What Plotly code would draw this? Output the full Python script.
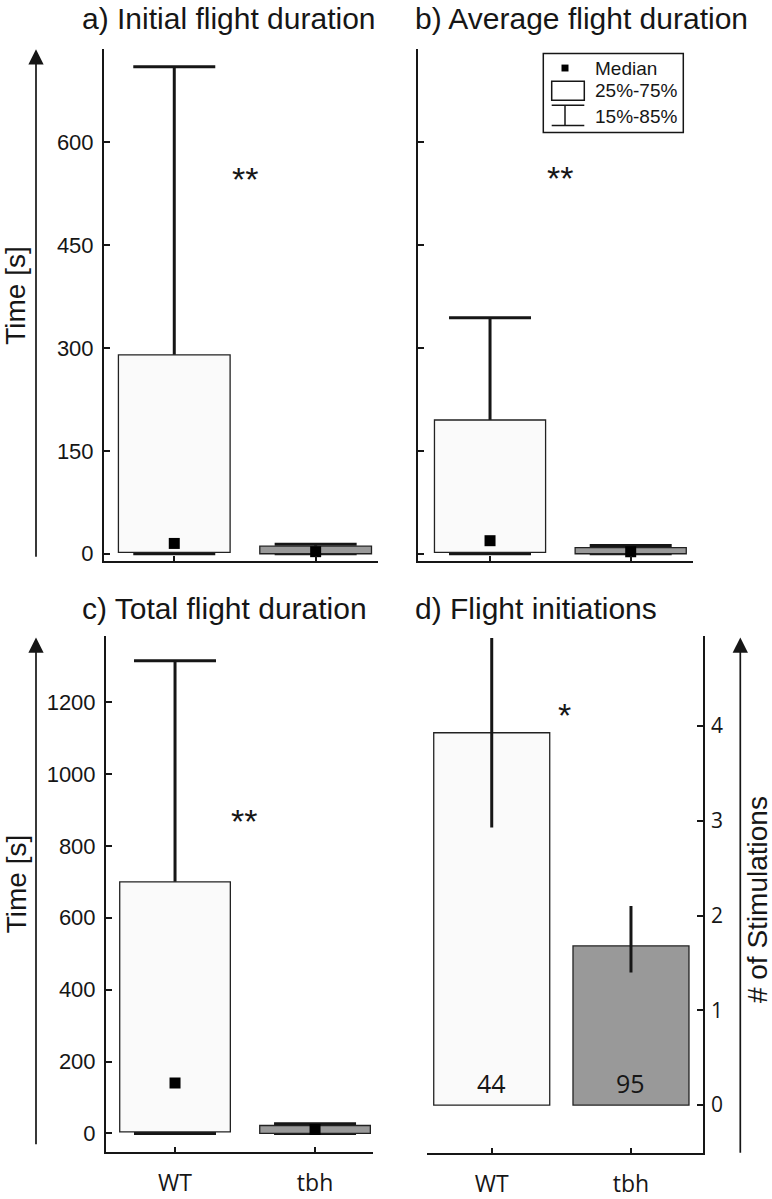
import plotly.graph_objects as go

W, H = 772, 1199

# ---------------- data ----------------
categories = ["WT", "tbh"]
fills = ["rgb(250,250,250)", "rgb(153,153,153)"]

# a) Initial flight duration  (15%, 25%, median, 75%, 85%)
a_p15 = [0, 0]
a_q1 = [2, 0]
a_med = [15, 3]
a_q3 = [290, 11]
a_p85 = [710, 14]

# b) Average flight duration
b_p15 = [0, 0]
b_q1 = [2, 0]
b_med = [19, 3]
b_q3 = [195, 9]
b_p85 = [344, 12]

# c) Total flight duration
c_p15 = [0, 0]
c_q1 = [4, 0]
c_med = [140, 11]
c_q3 = [700, 22]
c_p85 = [1315, 27]

# d) Flight initiations
d_mean = [3.93, 1.68]
d_err_up = [1.0, 0.42]
d_err_down = [1.0, 0.28]
d_n = ["44", "95"]

time_ticks = [0, 150, 300, 450, 600]
total_ticks = [0, 200, 400, 600, 800, 1000, 1200]
stim_ticks = [0, 1, 2, 3, 4]

# ---------------- helpers ----------------
def px(x):
    return x / W


def py(y):
    return 1 - y / H


def xd(l, r):
    return [px(l), px(r)]


def yd(top, bottom):
    return [py(bottom), py(top)]


INK = "#161616"
TICKFONT = dict(family="Liberation Sans, Arial, sans-serif", size=22, color=INK)
CATFONT = dict(family="Open Sans, sans-serif", size=23, color=INK)

fig = go.Figure()


def add_boxes(xa, ya, p15, q1, med, q3, p85):
    up = [p - m for p, m in zip(p85, med)]
    dn = [m - p for m, p in zip(med, p15)]
    fig.add_trace(go.Bar(
        x=categories, y=med, width=0.79, xaxis=xa, yaxis=ya,
        marker=dict(color="rgba(0,0,0,0)", line=dict(width=0)),
        error_y=dict(type="data", symmetric=False, array=up, arrayminus=dn,
                     color=INK, thickness=3, width=41),
        showlegend=False, hoverinfo="skip"))
    fig.add_trace(go.Bar(
        x=categories, y=[b - a for a, b in zip(q1, q3)], base=q1, width=0.79,
        xaxis=xa, yaxis=ya,
        marker=dict(color=fills, line=dict(color="#222", width=1.3)),
        showlegend=False, hoverinfo="skip"))
    fig.add_trace(go.Scatter(
        x=categories, y=med, mode="markers", xaxis=xa, yaxis=ya,
        marker=dict(symbol="square", size=11, color="black"),
        showlegend=False, hoverinfo="skip"))


add_boxes("x", "y", a_p15, a_q1, a_med, a_q3, a_p85)
add_boxes("x2", "y2", b_p15, b_q1, b_med, b_q3, b_p85)
add_boxes("x3", "y3", c_p15, c_q1, c_med, c_q3, c_p85)

fig.add_trace(go.Bar(
    x=categories, y=d_mean, width=0.833, xaxis="x4", yaxis="y4",
    marker=dict(color=fills, line=dict(color="#222", width=1.3)),
    error_y=dict(type="data", symmetric=False, array=d_err_up,
                 arrayminus=d_err_down, color=INK, thickness=3, width=0),
    showlegend=False, hoverinfo="skip"))

axis_common = dict(showline=True, linecolor=INK, linewidth=2, showgrid=False,
                   zeroline=False, ticks="inside", tickcolor=INK, tickwidth=1.5)

fig.update_layout(
    width=W, height=H, margin=dict(l=0, r=0, t=0, b=0),
    paper_bgcolor="white", plot_bgcolor="white",
    barmode="overlay", showlegend=False,
    font=dict(family="Liberation Sans, Arial, sans-serif", color=INK),
    xaxis=dict(domain=xd(104, 378), anchor="y", range=[-0.497, 1.441],
               showticklabels=False, ticklen=5, **axis_common),
    yaxis=dict(domain=yd(50, 569), anchor="x", range=[-10.5, 735.5],
               tickvals=time_ticks, ticklen=6, tickfont=TICKFONT,
               ticklabelstandoff=4, **axis_common),
    xaxis2=dict(domain=xd(418, 693.3), anchor="y2", range=[-0.512, 1.445],
                showticklabels=False, ticklen=5, **axis_common),
    yaxis2=dict(domain=yd(50, 569), anchor="x2", range=[-10.5, 735.5],
                tickvals=time_ticks, showticklabels=False, ticklen=6,
                **axis_common),
    xaxis3=dict(domain=xd(106, 373.3), anchor="y3", range=[-0.493, 1.416],
                tickfont=CATFONT, ticklen=5, ticklabelstandoff=10,
                **axis_common),
    yaxis3=dict(domain=yd(645, 1168.3), anchor="x3", range=[-51, 1384.6],
                tickvals=total_ticks, ticklen=6, tickfont=TICKFONT,
                ticklabelstandoff=4, **axis_common),
    xaxis4=dict(domain=xd(426.7, 702.7), anchor="y4", range=[-0.467, 1.515],
                tickfont=CATFONT, ticklen=5, ticklabelstandoff=10,
                **axis_common),
    yaxis4=dict(domain=yd(645, 1169.3), anchor="x4", range=[-0.503, 4.953],
                side="right", tickvals=stim_ticks, ticklen=6,
                tickfont=dict(family="Open Sans, sans-serif", size=21, color=INK),
                ticklabelstandoff=2, **axis_common),
)

ann = []
TITLEFONT = dict(family="Liberation Sans, Arial, sans-serif", size=30, color=INK)
for txt, x, y in [("a) Initial flight duration", 80, 19),
                  ("b) Average flight duration", 413, 19),
                  ("c) Total flight duration", 80, 617),
                  ("d) Flight initiations", 413, 617)]:
    ann.append(dict(text=txt, x=px(x), y=py(y), xref="paper", yref="paper",
                    xanchor="left", yanchor="middle", showarrow=False,
                    font=TITLEFONT))

LABFONT = dict(family="Liberation Sans, Arial, sans-serif", size=28, color=INK)
for txt, x, y in [("Time [s]", 16, 300), ("Time [s]", 16, 897),
                  ("# of Stimulations", 757, 913)]:
    ann.append(dict(text=txt, x=px(x), y=py(y), xref="paper", yref="paper",
                    xanchor="center", yanchor="middle", textangle=-90,
                    showarrow=False, font=LABFONT))

# long arrows beside the axes
for x, tip, tail in [(36, 50, 559), (36, 646.7, 1155), (740.3, 646.7, 1163.3)]:
    ann.append(dict(text="", x=px(x), y=py(tip), xref="paper", yref="paper",
                    ax=0, ay=tail - tip, showarrow=True, arrowhead=2,
                    arrowsize=1.8, arrowwidth=1.7, arrowcolor=INK))

# significance stars
STAR = dict(family="Liberation Sans, Arial, sans-serif", size=34, color=INK)
ann.append(dict(text="**", x=0.5, y=546, xref="x", yref="y", showarrow=False, font=STAR))
ann.append(dict(text="**", x=0.5, y=548, xref="x2", yref="y2", showarrow=False, font=STAR))
ann.append(dict(text="**", x=0.49, y=870, xref="x3", yref="y3", showarrow=False, font=STAR))
ann.append(dict(text="*", x=0.526, y=4.12, xref="x4", yref="y4", showarrow=False, font=STAR))

# n labels inside bars of panel d
for cat, n in zip(categories, d_n):
    ann.append(dict(text=n, x=cat, y=0.236, xref="x4", yref="y4", showarrow=False,
                    font=dict(family="Open Sans, sans-serif", size=25, color=INK)))

# legend (panel b)
LEGFONT = dict(family="Liberation Sans, Arial, sans-serif", size=19, color=INK)
for txt, y in [("Median", 69), ("25%-75%", 92), ("15%-85%", 118)]:
    ann.append(dict(text=txt, x=px(593), y=py(y), xref="paper", yref="paper",
                    xanchor="left", yanchor="middle", showarrow=False, font=LEGFONT))

fig.update_layout(annotations=ann)

shapes = []
def rect(x0, y0, x1, y1, fill="rgba(0,0,0,0)", lw=1.5):
    shapes.append(dict(type="rect", xref="paper", yref="paper",
                       x0=px(x0), x1=px(x1), y0=py(y1), y1=py(y0),
                       fillcolor=fill, line=dict(color=INK, width=lw)))

def line(x0, y0, x1, y1, lw=1.5):
    shapes.append(dict(type="line", xref="paper", yref="paper",
                       x0=px(x0), x1=px(x1), y0=py(y0), y1=py(y1),
                       line=dict(color=INK, width=lw)))

rect(543.3, 54.3, 683.3, 134.3)
rect(561.5, 65.5, 568.5, 72.5, fill="black", lw=0)
rect(551.7, 82.3, 584.3, 101.7)
line(551.7, 106.7, 584.3, 106.7)
line(551.7, 127.3, 584.3, 127.3)
line(565, 106.7, 565, 127.3)
fig.update_layout(shapes=shapes)

fig.write_html(
    "out.html",
    config={"displayModeBar": False},
    post_script="document.body.style.margin='0px';document.body.style.overflow='hidden';",
)
